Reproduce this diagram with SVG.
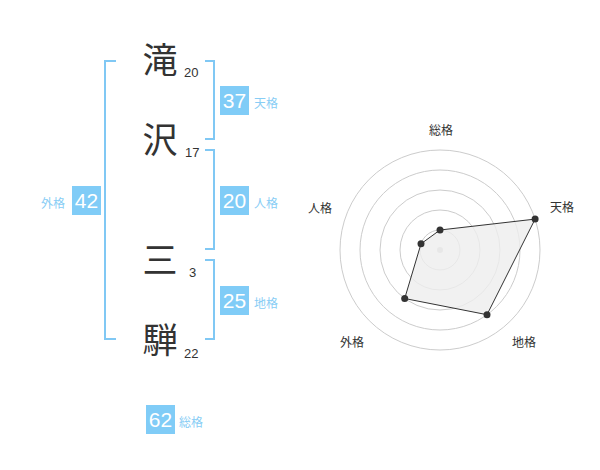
<svg xmlns="http://www.w3.org/2000/svg" width="600" height="470" viewBox="0 0 600 470">
<style>
.k{font-family:"Noto Sans CJK JP","Noto Sans",sans-serif;font-size:35px;fill:#333;text-anchor:middle}
.n{font-family:"Liberation Sans","Noto Sans",sans-serif;font-size:13px;fill:#333}
.br{fill:none;stroke:#80c8f4;stroke-width:2}
.bx{fill:#80ccf7}
.bv{font-family:"Liberation Sans","Noto Sans",sans-serif;font-size:21px;fill:#fff;text-anchor:middle}
.bl{font-family:"Noto Sans CJK JP",sans-serif;font-size:12px;fill:#88cdf5}
.ring{fill:none;stroke:#ccc;stroke-width:1}
.rl{font-family:"Noto Sans CJK JP",sans-serif;font-size:12px;fill:#333;text-anchor:middle}
.pt{fill:#333}
</style>
<g id="chars">
<g id="c1"><text class="k" x="160" y="73">滝</text><text class="n" x="184" y="77">20</text></g>
<g id="c2"><text class="k" x="160" y="153">沢</text><text class="n" x="185" y="157">17</text></g>
<g id="c3"><text class="k" x="160" y="273">三</text><text class="n" x="189" y="277">3</text></g>
<g id="c4"><text class="k" x="160" y="353">騨</text><text class="n" x="184" y="358">22</text></g>
</g>
<g id="connectors">
<path class="br" d="M116,61 H105 V339 H116"/>
<path class="br" d="M205,61 H214 V139 H205"/>
<path class="br" d="M205,150 H214 V249 H205"/>
<path class="br" d="M205,260 H214 V339 H205"/>
</g>
<g id="tenkaku"><rect class="bx" x="220" y="86" width="29" height="29"/><text class="bv" x="234.5" y="108">37</text><text class="bl" x="254" y="108">天格</text></g>
<g id="jinkaku"><rect class="bx" x="220" y="186" width="29" height="29"/><text class="bv" x="234.5" y="208">20</text><text class="bl" x="254" y="208">人格</text></g>
<g id="gaikaku"><rect class="bx" x="72" y="186" width="29" height="29"/><text class="bv" x="86.5" y="208">42</text><text class="bl" x="41" y="208">外格</text></g>
<g id="chikaku"><rect class="bx" x="220" y="286" width="29" height="29"/><text class="bv" x="234.5" y="308">25</text><text class="bl" x="254" y="308">地格</text></g>
<g id="soukaku"><rect class="bx" x="146" y="405" width="29" height="29"/><text class="bv" x="160.5" y="427">62</text><text class="bl" x="179" y="427">総格</text></g>
<g id="radar">
<circle class="ring" cx="440" cy="250" r="100"/>
<circle class="ring" cx="440" cy="250" r="80"/>
<circle class="ring" cx="440" cy="250" r="60"/>
<circle class="ring" cx="440" cy="250" r="40"/>
<circle class="ring" cx="440" cy="250" r="20"/>
<circle cx="440" cy="250" r="3" fill="#ccc"/>
<polygon points="440,230 535.1,219.1 487,314.7 404.7,298.5 421,243.8" fill="#eee" fill-opacity="0.8" stroke="#333" stroke-width="1"/>
<circle class="pt" cx="440" cy="230" r="3.5"/>
<circle class="pt" cx="535.1" cy="219.1" r="3.5"/>
<circle class="pt" cx="487" cy="314.7" r="3.5"/>
<circle class="pt" cx="404.7" cy="298.5" r="3.5"/>
<circle class="pt" cx="421" cy="243.8" r="3.5"/>
<text class="rl" x="441" y="135">総格</text>
<text class="rl" x="562" y="212">天格</text>
<text class="rl" x="524" y="347">地格</text>
<text class="rl" x="352" y="347">外格</text>
<text class="rl" x="320" y="213">人格</text>
</g>
</svg>
